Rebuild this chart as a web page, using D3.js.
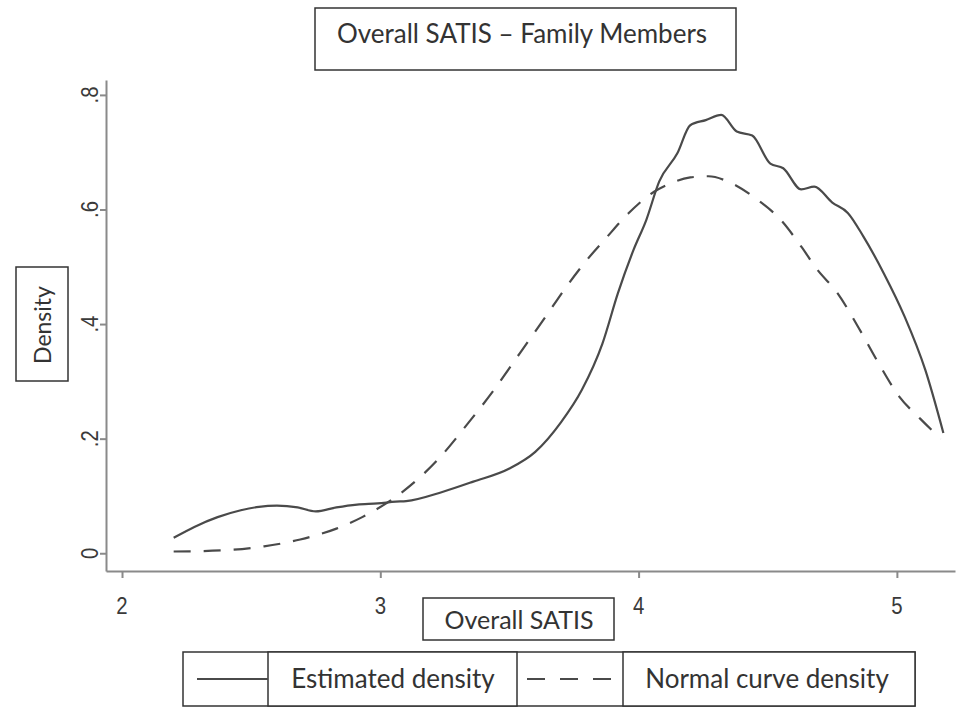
<!DOCTYPE html>
<html>
<head>
<meta charset="utf-8">
<script src="https://cdn.jsdelivr.net/npm/d3@7"></script>
<style>
  body { margin: 0; background: #fff; }
  svg { display: block; }
  .box { fill: #fff; stroke: #333; stroke-width: 1.5; }
  .box-text { font-family: Lato, "Open Sans", sans-serif; fill: #333; }
  .tick-text { font-family: "Liberation Sans Narrow", "Liberation Sans", sans-serif; fill: #3a3a3a; font-size: 24px; }
</style>
</head>
<body>
<svg id="chart" width="966" height="723"></svg>
<script>
// x values and density values
const estX = [2.20, 2.28, 2.37, 2.46, 2.53, 2.60, 2.68, 2.75, 2.83, 2.91, 2.99, 3.06, 3.10, 3.24, 3.36, 3.50, 3.60, 3.70, 3.78, 3.86, 3.92, 3.98, 4.03, 4.08, 4.15, 4.20, 4.26, 4.32, 4.38, 4.44, 4.51, 4.56, 4.63, 4.68, 4.75, 4.81, 4.87, 4.95, 5.03, 5.11, 5.18];
const estY = [0.027, 0.046, 0.063, 0.075, 0.081, 0.083, 0.080, 0.073, 0.080, 0.085, 0.087, 0.090, 0.091, 0.107, 0.125, 0.148, 0.177, 0.229, 0.285, 0.366, 0.454, 0.529, 0.582, 0.649, 0.698, 0.747, 0.756, 0.765, 0.736, 0.729, 0.680, 0.672, 0.635, 0.640, 0.612, 0.594, 0.553, 0.488, 0.413, 0.320, 0.210];

const normX = [2.20, 2.39, 2.55, 2.69, 2.83, 2.93, 3.08, 3.22, 3.34, 3.44, 3.54, 3.64, 3.72, 3.80, 3.87, 3.96, 4.06, 4.12, 4.20, 4.27, 4.35, 4.46, 4.55, 4.63, 4.69, 4.77, 4.85, 4.93, 5.01, 5.09, 5.17];
const normY = [0.003, 0.005, 0.012, 0.024, 0.043, 0.063, 0.105, 0.162, 0.227, 0.285, 0.349, 0.413, 0.465, 0.512, 0.548, 0.593, 0.631, 0.645, 0.656, 0.658, 0.648, 0.617, 0.582, 0.535, 0.496, 0.454, 0.395, 0.331, 0.273, 0.235, 0.200];

const xTicks = [2, 3, 4, 5];
const yTicks = [0, 0.2, 0.4, 0.6, 0.8];
const yTickLabels = ["0", ".2", ".4", ".6", ".8"];

const titleText = "Overall SATIS \u2013 Family Members";
const xTitle = "Overall SATIS";
const yTitle = "Density";
const legendLabels = ["Estimated density", "Normal curve density"];

const lineColor = "#4a4a4a";
const axisColor = "#8a8a8a";

document.addEventListener('DOMContentLoaded', function () {
    drawChart();
});

function drawChart() {
    const svg = d3.select('#chart');

    const x = d3.scaleLinear().domain([1.938, 5.225]).range([106, 955]);
    const y = d3.scaleLinear().domain([-0.031, 0.826]).range([571, 80]);

    // x axis
    const xAxis = svg.append('g')
        .attr('transform', 'translate(0,571)')
        .call(d3.axisBottom(x).tickValues(xTicks).tickSize(7).tickSizeOuter(0).tickFormat(''));
    xAxis.select('.domain').attr('stroke', axisColor).attr('stroke-width', 2);
    xAxis.selectAll('.tick line').attr('stroke', axisColor).attr('stroke-width', 2);

    xTicks.forEach(function (t) {
        svg.append('text')
            .attr('class', 'tick-text')
            .attr('transform', 'translate(' + x(t) + ',614) scale(0.85,1)')
            .attr('text-anchor', 'middle')
            .text(t);
    });

    // y axis
    const yAxis = svg.append('g')
        .attr('transform', 'translate(106,0)')
        .call(d3.axisLeft(y).tickValues(yTicks).tickSize(6).tickSizeOuter(0).tickFormat(''));
    yAxis.select('.domain').attr('stroke', axisColor).attr('stroke-width', 2);
    yAxis.selectAll('.tick line').attr('stroke', axisColor).attr('stroke-width', 2);

    yTicks.forEach(function (t, i) {
        svg.append('text')
            .attr('class', 'tick-text')
            .attr('transform', 'translate(98,' + y(t) + ') rotate(-90) scale(0.85,1)')
            .attr('text-anchor', 'middle')
            .text(yTickLabels[i]);
    });

    // curves
    const estData = estX.map((v, i) => ({ x: v, y: estY[i] }));
    const normData = normX.map((v, i) => ({ x: v, y: normY[i] }));

    const line = d3.line()
        .curve(d3.curveMonotoneX)
        .x(d => x(d.x))
        .y(d => y(d.y));

    svg.append('path')
        .datum(normData)
        .attr('fill', 'none')
        .attr('stroke', lineColor)
        .attr('stroke-width', 2.2)
        .attr('stroke-dasharray', '17,13')
        .attr('d', line);

    svg.append('path')
        .datum(estData)
        .attr('fill', 'none')
        .attr('stroke', lineColor)
        .attr('stroke-width', 2.2)
        .attr('d', line);

    // title box
    svg.append('rect').attr('class', 'box')
        .attr('x', 315).attr('y', 8).attr('width', 421).attr('height', 62);
    svg.append('text').attr('class', 'box-text')
        .attr('x', 522).attr('y', 43)
        .attr('text-anchor', 'middle')
        .attr('font-size', 26)
        .text(titleText);

    // y title box
    svg.append('rect').attr('class', 'box')
        .attr('x', 16).attr('y', 267).attr('width', 52).attr('height', 114);
    svg.append('text').attr('class', 'box-text')
        .attr('transform', 'translate(51,325) rotate(-90)')
        .attr('text-anchor', 'middle')
        .attr('font-size', 23)
        .text(yTitle);

    // x title box
    svg.append('rect').attr('class', 'box')
        .attr('x', 423).attr('y', 598).attr('width', 191).attr('height', 42);
    svg.append('text').attr('class', 'box-text')
        .attr('x', 519).attr('y', 629)
        .attr('text-anchor', 'middle')
        .attr('font-size', 25)
        .text(xTitle);

    // legend
    const legTop = 652, legH = 54;
    svg.append('rect').attr('class', 'box')
        .attr('x', 183).attr('y', legTop).attr('width', 732).attr('height', legH);
    svg.append('rect').attr('class', 'box')
        .attr('x', 268).attr('y', legTop).attr('width', 249).attr('height', legH);
    svg.append('rect').attr('class', 'box')
        .attr('x', 623).attr('y', legTop).attr('width', 292).attr('height', legH);

    svg.append('line')
        .attr('x1', 197).attr('x2', 268)
        .attr('y1', legTop + legH / 2).attr('y2', legTop + legH / 2)
        .attr('stroke', lineColor).attr('stroke-width', 2.2);
    svg.append('line')
        .attr('x1', 527).attr('x2', 623)
        .attr('y1', legTop + legH / 2).attr('y2', legTop + legH / 2)
        .attr('stroke', lineColor).attr('stroke-width', 2.2)
        .attr('stroke-dasharray', '18,15');

    svg.append('text').attr('class', 'box-text')
        .attr('x', 393).attr('y', legTop + 36)
        .attr('text-anchor', 'middle')
        .attr('font-size', 26)
        .text(legendLabels[0]);
    svg.append('text').attr('class', 'box-text')
        .attr('x', 767).attr('y', legTop + 36)
        .attr('text-anchor', 'middle')
        .attr('font-size', 26)
        .text(legendLabels[1]);
}
</script>
</body>
</html>
